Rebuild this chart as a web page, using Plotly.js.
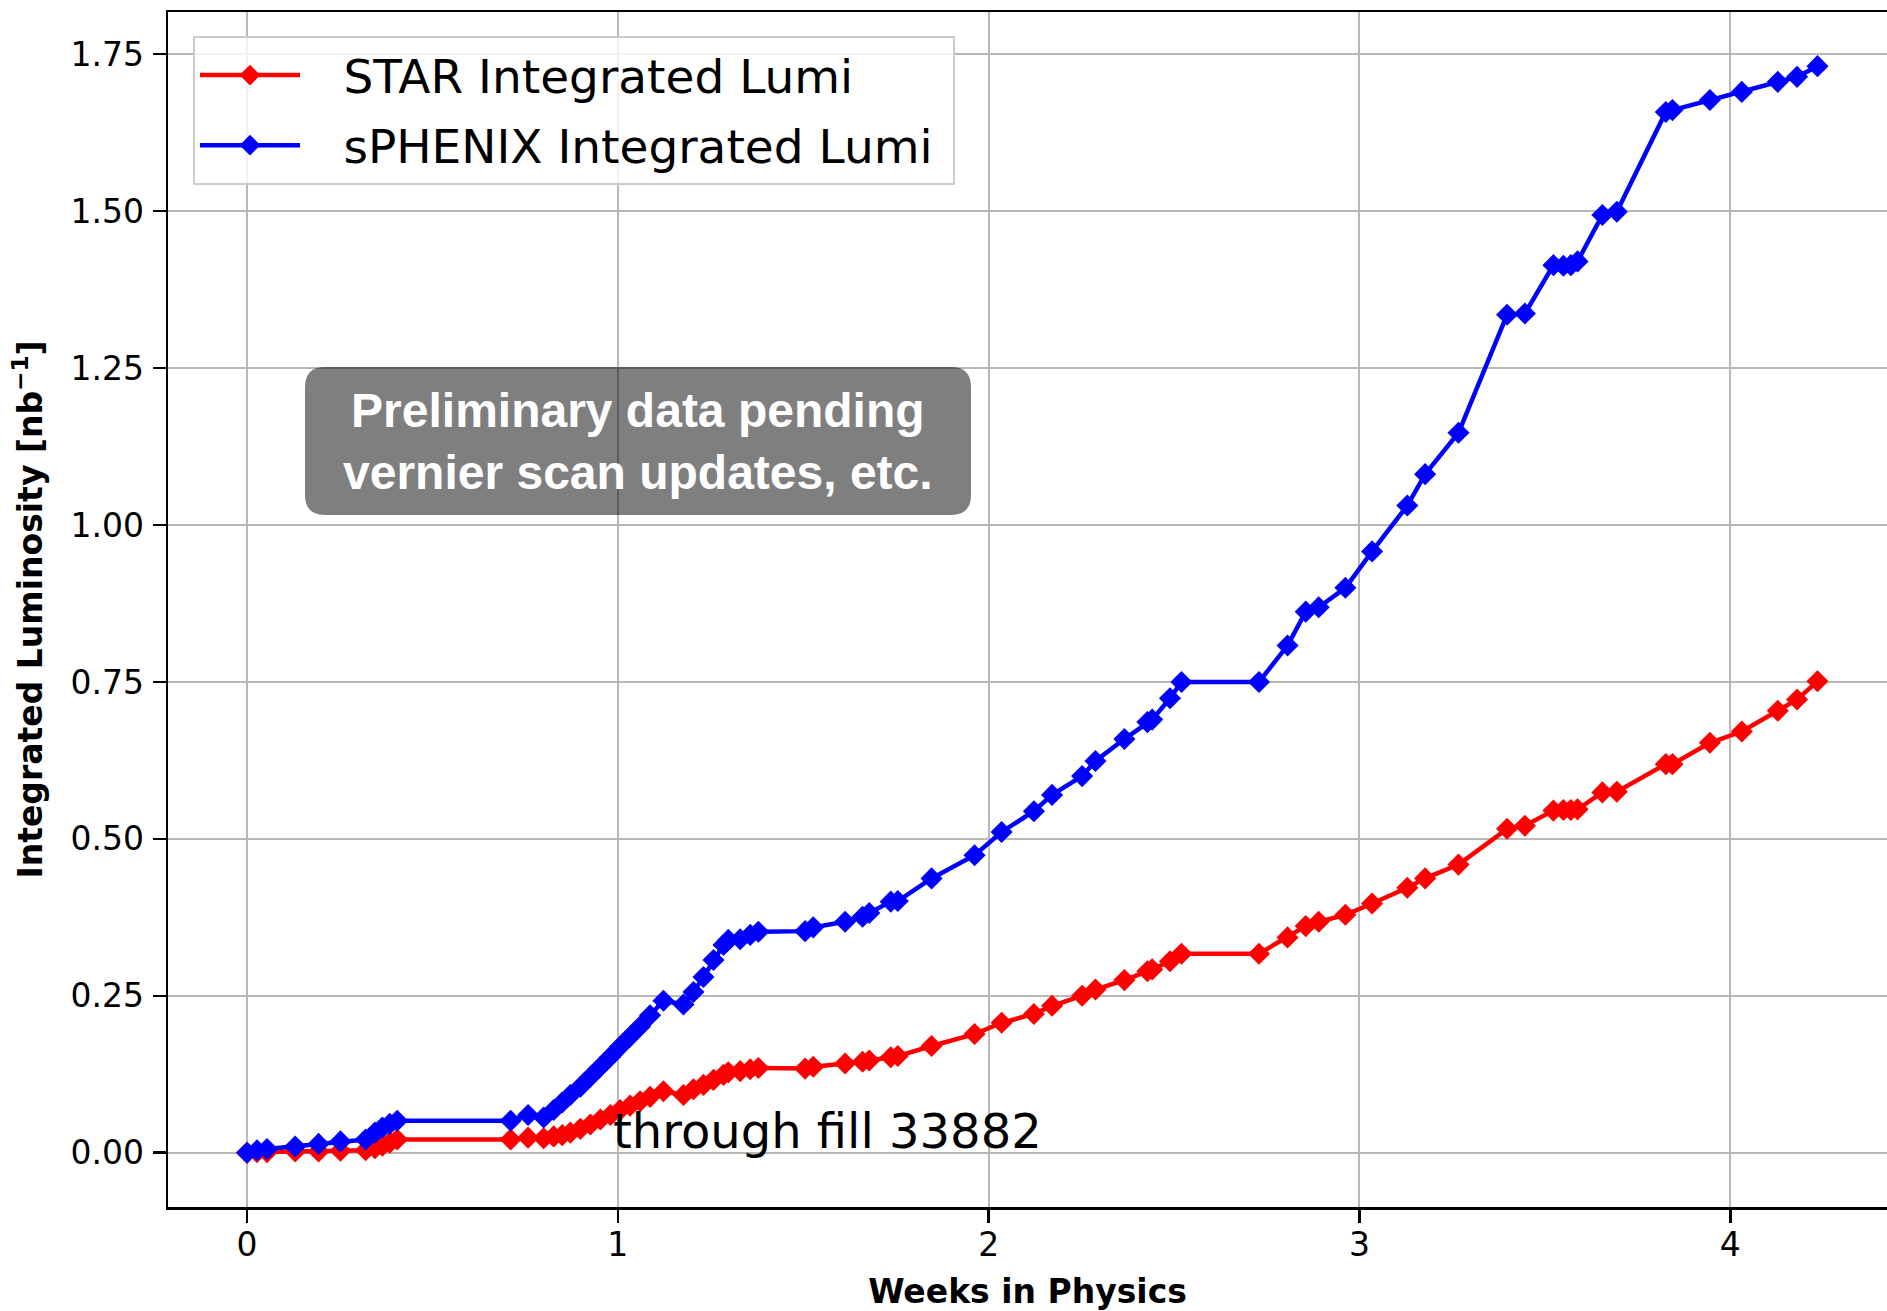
<!DOCTYPE html>
<html><head><meta charset="utf-8">
<script src="https://cdn.plot.ly/plotly-3.0.1.min.js"></script>
<style>html,body{margin:0;padding:0;background:#fff;overflow:hidden}#chart{width:1887px;height:1311px}</style>
</head><body><div id="chart"></div>
<script>
// ---- data ----
const weeks = [
  0, 0.027, 0.054, 0.130, 0.193, 0.252, 0.320, 0.345, 0.365, 0.385, 0.405,
  0.711, 0.758, 0.800, 0.827, 0.850, 0.872, 0.899, 0.926, 0.953, 0.980, 1.006, 1.033, 1.060, 1.087, 1.123, 1.177, 1.204, 1.231, 1.258, 1.285, 1.298, 1.330, 1.357, 1.379,
  1.505, 1.527, 1.613, 1.660, 1.678, 1.736, 1.755, 1.846, 1.962, 2.035, 2.122, 2.171, 2.252, 2.288, 2.366, 2.428, 2.441, 2.489, 2.520,
  2.729, 2.806, 2.855, 2.890, 2.962, 3.034, 3.129, 3.177, 3.267, 3.398, 3.446, 3.523, 3.550, 3.570, 3.588, 3.655, 3.694, 3.826, 3.844, 3.945, 4.031, 4.128, 4.180, 4.235
];
const starLumi = [
  0, 0.001, 0.001, 0.002, 0.002, 0.003, 0.004, 0.007, 0.011, 0.016, 0.021,
  0.021, 0.024, 0.023, 0.026, 0.028, 0.032, 0.038, 0.045, 0.053, 0.060, 0.068, 0.075, 0.082, 0.089, 0.098, 0.092, 0.101, 0.108, 0.116, 0.124, 0.128, 0.130, 0.133, 0.135,
  0.134, 0.137, 0.142, 0.145, 0.147, 0.152, 0.154, 0.170, 0.189, 0.207, 0.221, 0.234, 0.250, 0.260, 0.275, 0.289, 0.292, 0.305, 0.317,
  0.317, 0.343, 0.361, 0.368, 0.379, 0.397, 0.422, 0.437, 0.459, 0.516, 0.521, 0.545, 0.546, 0.546, 0.547, 0.574, 0.575, 0.619, 0.619, 0.653, 0.671, 0.704, 0.722, 0.751
];
const sphenixLumi = [
  0, 0.004, 0.006, 0.010, 0.014, 0.018, 0.021, 0.032, 0.040, 0.046, 0.051,
  0.051, 0.060, 0.056, 0.068, 0.080, 0.092, 0.105, 0.121, 0.137, 0.153, 0.169, 0.185, 0.201, 0.219, 0.242, 0.236, 0.256, 0.280, 0.307, 0.331, 0.339, 0.340, 0.347, 0.352,
  0.353, 0.359, 0.368, 0.376, 0.382, 0.400, 0.401, 0.437, 0.474, 0.511, 0.544, 0.570, 0.600, 0.624, 0.659, 0.686, 0.690, 0.724, 0.750,
  0.750, 0.808, 0.862, 0.869, 0.900, 0.958, 1.031, 1.081, 1.147, 1.335, 1.337, 1.414, 1.413, 1.414, 1.420, 1.494, 1.499, 1.658, 1.661, 1.677, 1.690, 1.706, 1.714, 1.731
];
const seriesNames = ['STAR Integrated Lumi', 'sPHENIX Integrated Lumi'];
const xTickVals = [0, 1, 2, 3, 4];
const yTickVals = [0, 0.25, 0.5, 0.75, 1.0, 1.25, 1.5, 1.75];
const yTickText = ['0.00', '0.25', '0.50', '0.75', '1.00', '1.25', '1.50', '1.75'];
const xTitle = 'Weeks in Physics';
const yTitle = 'Integrated Luminosity [nb<sup>\u22121</sup>]';
const noteText = 'through fill 33882';
const boxText = 'Preliminary data pending<br>vernier scan updates, etc.';

// ---- layout geometry ----
const W = 1887, H = 1311;
const M = {l: 168, r: 0, t: 12, b: 104};
const PW = W - M.l - M.r, PH = H - M.t - M.b;
const px2paperX = p => (p - M.l) / PW;
const px2paperY = p => (H - M.b - p) / PH;

// rounded translucent box (paper coords)
const bx0 = px2paperX(305), bx1 = px2paperX(971);
const by0 = px2paperY(515), by1 = px2paperY(367);
const rx = 20 / PW, ry = 20 / PH;
const boxPath = `M${bx0+rx},${by1} L${bx1-rx},${by1} Q${bx1},${by1} ${bx1},${by1-ry} L${bx1},${by0+ry} Q${bx1},${by0} ${bx1-rx},${by0} L${bx0+rx},${by0} Q${bx0},${by0} ${bx0},${by0+ry} L${bx0},${by1-ry} Q${bx0},${by1} ${bx0+rx},${by1} Z`;

const FONT = 'DejaVu Sans';
const LEAD = '\u2002\u00a0';
const mk = (y, name, color, grp, tail) => ({
  x: weeks, y: y, name: LEAD + name + tail, type: 'scatter', mode: 'lines+markers',
  legendgroup: grp,
  line: {color: color, width: 4.5},
  marker: {symbol: 'diamond', size: 17, color: color, line: {width: 0}}
});
const data = [
  mk(starLumi, seriesNames[0], '#ff0000', 'g1', ''),
  mk(sphenixLumi, seriesNames[1], '#0000ff', 'g2', '\u00a0')
];

const axisCommon = {
  showline: true, linecolor: '#000', linewidth: 2.5,
  showgrid: true, gridcolor: '#b8b8b8', gridwidth: 2,
  zeroline: false, ticks: 'outside', ticklen: 13, tickwidth: 2.5, tickcolor: '#000',
  tickfont: {family: FONT, size: 33, color: '#000'},
  automargin: false
};

const layout = {
  width: W, height: H, margin: M,
  paper_bgcolor: '#fff', plot_bgcolor: '#fff',
  showlegend: true,
  xaxis: Object.assign({}, axisCommon, {
    range: [-0.213, 4.4225], tickvals: xTickVals, mirror: true,
    ticklabelstandoff: -6,
    title: {text: xTitle, font: {family: FONT, size: 33, color: '#000', weight: 'bold'}, standoff: 28}
  }),
  yaxis: Object.assign({}, axisCommon, {
    range: [-0.0865, 1.8173], tickvals: yTickVals, ticktext: yTickText,
    ticklabelstandoff: 2,
    title: {text: yTitle, font: {family: FONT, size: 33, color: '#000', weight: 'bold'}, standoff: 18}
  }),
  legend: {
    x: px2paperX(193), y: px2paperY(36), xanchor: 'left', yanchor: 'top',
    bgcolor: 'rgba(255,255,255,0.8)', bordercolor: '#cccccc', borderwidth: 2,
    font: {family: FONT, size: 47, color: '#000'},
    itemwidth: 100, traceorder: 'grouped', tracegroupgap: 6
  },
  shapes: [{
    type: 'path', xref: 'paper', yref: 'paper', path: boxPath,
    fillcolor: 'rgba(0,0,0,0.5)', line: {width: 0}, layer: 'above'
  }],
  annotations: [
    {x: 1, y: 0, xref: 'x', yref: 'y', xanchor: 'left', yanchor: 'bottom', yshift: -8, xshift: -7,
     text: noteText, showarrow: false, font: {family: FONT, size: 48, color: '#000'}},
    {x: (bx0 + bx1) / 2, y: (by0 + by1) / 2, xref: 'paper', yref: 'paper', xanchor: 'center', yanchor: 'middle',
     text: boxText, showarrow: false, align: 'center',
     font: {family: 'Liberation Sans', size: 48, color: '#fff', weight: 'bold'}}
  ]
};

Plotly.newPlot('chart', data, layout, {staticPlot: true, displayModeBar: false});
</script></body></html>
